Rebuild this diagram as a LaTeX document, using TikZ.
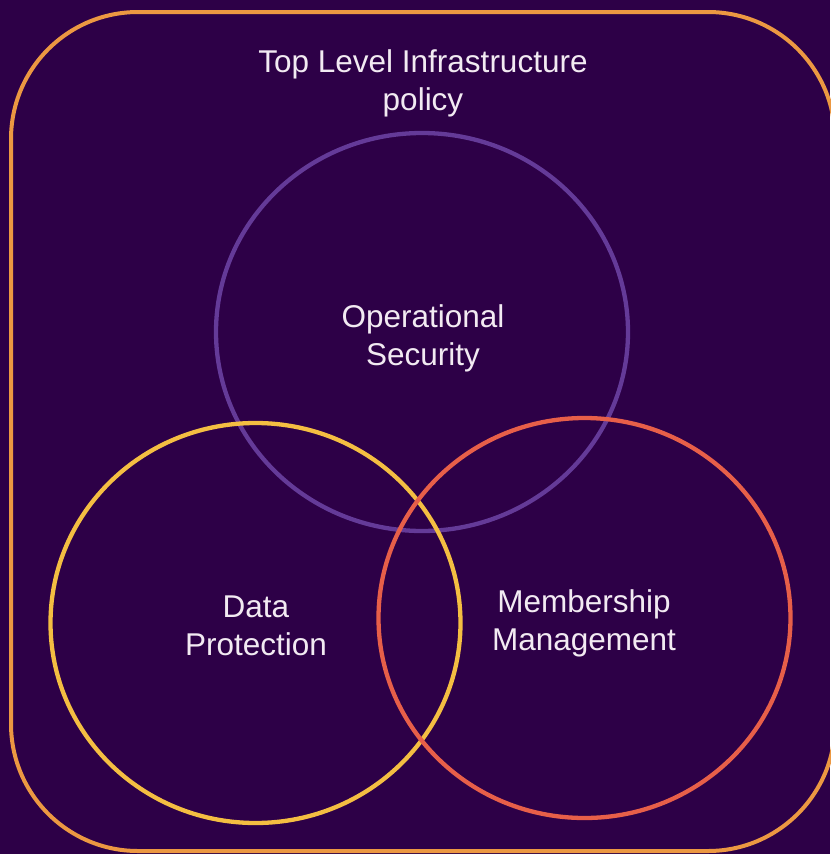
\documentclass[tikz,border=0pt]{standalone}
\usepackage{fontspec}
\setmainfont{Liberation Sans}
\definecolor{bgpurple}{RGB}{45,0,71}
\definecolor{frameorange}{RGB}{236,152,66}
\definecolor{opspurple}{RGB}{100,58,152}
\definecolor{dpyellow}{RGB}{244,190,66}
\definecolor{mmred}{RGB}{231,95,73}
\definecolor{labelwhite}{RGB}{242,234,242}
\tikzset{
  lbl/.style={text=labelwhite, align=center, inner sep=0pt, anchor=base,
    font=\fontsize{31.5}{38}\selectfont},
  ring/.style={line width=4.3pt}
}
\begin{document}
\begin{tikzpicture}[x=1pt,y=-1pt]
  \fill[bgpurple] (0,0) rectangle (830,854);
  \useasboundingbox (0,0) rectangle (830,854);
  \draw[frameorange, line width=4pt, rounded corners=127pt] (11,12) rectangle (835,851);
  \draw[ring, opspurple] (422,332) ellipse [x radius=206, y radius=199];
  \draw[ring, dpyellow] (255.5,623) ellipse [x radius=205, y radius=200];
  \draw[ring, mmred] (584.5,618) ellipse [x radius=206, y radius=200];
  \node[lbl] (title) at (423,110) {Top Level Infrastructure\\policy};
  \node[lbl] (ops) at (423,365) {Operational\\Security};
  \node[lbl] (dp) at (256,655) {Data\\Protection};
  \node[lbl] (mm) at (584,650) {Membership\\Management};
\end{tikzpicture}
\end{document}
